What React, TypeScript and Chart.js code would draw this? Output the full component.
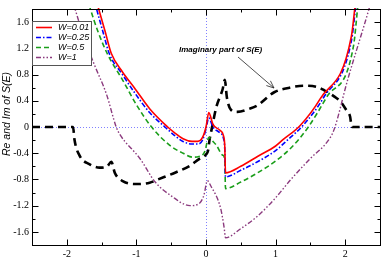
import React, { useEffect, useRef } from "react";
import { Chart, registerables } from "chart.js";

Chart.register(...registerables);

// ---------- data ----------
const xTickValues = [-2, -1, 0, 1, 2];
const yTickValues = [-1.6, -1.2, -0.8, -0.4, 0, 0.4, 0.8, 1.2, 1.6];
const xMin = -2.5;
const xMax = 2.5;
const yMin = -1.8;
const yMax = 1.8;

const seriesLabels = ["W=0.01", "W=0.25", "W=0.5", "W=1"];
const yAxisTitle = "Re and Im of S(E)";
const annotationText = "Imaginary part of S(E)";

// Re S(E), W=0.01
const reW001X = [-1.62, -1.55, -1.45, -1.36, -1.2, -1.03, -0.81, -0.55, -0.45, -0.33, -0.2, -0.12, -0.05, 0.0, 0.04, 0.1, 0.2, 0.25, 0.27, 0.28, 0.5, 0.74, 1.0, 1.11, 1.35, 1.64, 2.09, 2.14, 2.17];
const reW001Y = [2.1, 1.83, 1.46, 1.12, 0.84, 0.6, 0.28, 0.0, -0.09, -0.18, -0.22, -0.22, -0.16, 0.0, 0.22, 0.04, -0.05, -0.13, -0.3, -0.7, -0.6, -0.45, -0.29, -0.19, 0.02, 0.43, 1.39, 1.83, 2.1];

// Re S(E), W=0.25
const reW025X = [-1.65, -1.58, -1.48, -1.39, -1.2, -1.03, -0.81, -0.59, -0.45, -0.33, -0.2, -0.12, -0.05, 0.0, 0.04, 0.1, 0.2, 0.25, 0.27, 0.28, 0.5, 0.74, 1.0, 1.18, 1.4, 1.69, 2.09, 2.15, 2.18];
const reW025Y = [2.1, 1.83, 1.45, 1.12, 0.8, 0.53, 0.22, 0.0, -0.13, -0.22, -0.26, -0.26, -0.2, -0.03, 0.14, 0.0, -0.09, -0.17, -0.35, -0.76, -0.66, -0.53, -0.36, -0.19, 0.03, 0.45, 1.32, 1.83, 2.1];

// Re S(E), W=0.5
const reW05X = [-1.74, -1.67, -1.55, -1.41, -1.2, -1.0, -0.79, -0.52, -0.33, -0.19, -0.1, -0.02, 0.04, 0.1, 0.15, 0.24, 0.27, 0.28, 0.5, 0.74, 1.0, 1.22, 1.47, 1.73, 2.12, 2.18, 2.21];
const reW05Y = [2.1, 1.83, 1.45, 1.1, 0.72, 0.34, 0.01, -0.28, -0.4, -0.46, -0.45, -0.38, -0.16, -0.22, -0.28, -0.43, -0.5, -0.94, -0.84, -0.7, -0.52, -0.32, 0.0, 0.45, 1.24, 1.83, 2.1];

// Re S(E), W=1
const reW1X = [-1.97, -1.89, -1.75, -1.6, -1.43, -1.29, -1.24, -0.95, -0.73, -0.5, -0.23, -0.1, -0.03, 0.02, 0.07, 0.21, 0.26, 0.28, 0.5, 0.74, 1.0, 1.22, 1.5, 1.76, 1.84, 2.03, 2.35, 2.42];
const reW1Y = [2.1, 1.83, 1.35, 0.94, 0.5, 0.0, -0.11, -0.48, -0.84, -1.05, -1.2, -1.17, -1.04, -0.82, -0.9, -1.24, -1.53, -1.69, -1.55, -1.36, -1.08, -0.8, -0.48, -0.2, -0.04, 0.7, 1.83, 2.1];

// Im S(E)
const imX = [-2.5, -1.91, -1.89, -1.82, -1.67, -1.53, -1.42, -1.36, -1.31, -1.19, -1.0, -0.81, -0.69, -0.43, -0.23, -0.1, 0.0, 0.03, 0.05, 0.08, 0.15, 0.24, 0.27, 0.3, 0.36, 0.45, 0.63, 0.74, 0.98, 1.2, 1.41, 1.6, 1.7, 1.85, 1.94, 2.02, 2.07, 2.09, 2.1, 2.5];
const imY = [0, 0, -0.19, -0.43, -0.57, -0.62, -0.6, -0.53, -0.7, -0.83, -0.87, -0.85, -0.8, -0.69, -0.59, -0.49, -0.42, -0.36, -0.2, -0.04, 0.31, 0.58, 0.72, 0.45, 0.26, 0.23, 0.28, 0.33, 0.53, 0.6, 0.63, 0.61, 0.56, 0.46, 0.38, 0.25, 0.16, 0.02, 0, 0];

const toPoints = (xs: number[], ys: number[]) => xs.map((x, i) => ({ x, y: ys[i] }));
const fmt = (v: number) => String(Math.round(v * 10) / 10);

const SANS = '"Liberation Sans", Arial, sans-serif';
const SERIF = '"Liberation Serif", "Times New Roman", serif';

const decorPlugin = {
  id: "decor",
  beforeDatasetsDraw(chart: any) {
    const { ctx, chartArea: a, scales } = chart;
    const x0 = Math.round(scales.x.getPixelForValue(0)) + 0.5;
    const y0 = Math.round(scales.y.getPixelForValue(0)) + 0.5;
    ctx.save();
    ctx.strokeStyle = "#8080ff";
    ctx.lineWidth = 1;
    ctx.setLineDash([1, 2]);
    ctx.beginPath();
    ctx.moveTo(x0, a.top);
    ctx.lineTo(x0, a.bottom);
    ctx.moveTo(a.left, y0);
    ctx.lineTo(a.right, y0);
    ctx.stroke();
    ctx.restore();
  },
  afterDraw(chart: any) {
    const { ctx, chartArea: a, scales } = chart;
    const xs = scales.x;
    const ys = scales.y;
    ctx.save();
    // frame
    ctx.strokeStyle = "#000";
    ctx.lineWidth = 1;
    ctx.setLineDash([]);
    const L = a.left + 0.5, R = a.right + 0.5, T = a.top + 0.5, B = a.bottom + 0.5;
    ctx.strokeRect(L, T, R - L, B - T);

    // ticks (major + minor), inward on all sides
    const major = 6, minor = 3;
    const xMaj = xs.ticks.map((t: any) => t.value);
    const yMaj = ys.ticks.map((t: any) => t.value);
    const mids = (vals: number[]) => {
      const out: number[] = [];
      const step = vals[1] - vals[0];
      out.push(vals[0] - step / 2);
      for (let i = 0; i < vals.length - 1; i++) out.push((vals[i] + vals[i + 1]) / 2);
      out.push(vals[vals.length - 1] + step / 2);
      return out;
    };
    ctx.beginPath();
    const xt = (v: number, len: number) => {
      const p = Math.round(xs.getPixelForValue(v)) + 0.5;
      if (p < a.left || p > a.right + 1) return;
      ctx.moveTo(p, B); ctx.lineTo(p, B - len);
      ctx.moveTo(p, T); ctx.lineTo(p, T + len);
    };
    const yt = (v: number, len: number) => {
      const p = Math.round(ys.getPixelForValue(v)) + 0.5;
      if (p < a.top || p > a.bottom + 1) return;
      ctx.moveTo(L, p); ctx.lineTo(L + len, p);
      ctx.moveTo(R, p); ctx.lineTo(R - len, p);
    };
    xMaj.forEach((v: number) => xt(v, major));
    mids(xMaj).forEach((v) => xt(v, minor));
    yMaj.forEach((v: number) => yt(v, major));
    mids(yMaj).forEach((v) => yt(v, minor));
    ctx.stroke();

    // legend box
    const bx = a.left + 0.5, by = 21.5, bw = 59, bh = 44;
    ctx.fillStyle = "#fff";
    ctx.fillRect(bx, by, bw, bh);
    ctx.strokeStyle = "#555";
    ctx.strokeRect(bx, by, bw, bh);
    const rows = [27, 37, 47, 57];
    ctx.font = `italic 9px ${SANS}`;
    ctx.textBaseline = "middle";
    ctx.textAlign = "left";
    chart.data.datasets.slice(0, seriesLabels.length).forEach((ds: any, i: number) => {
      const yy = rows[i] + 0.5;
      ctx.strokeStyle = ds.borderColor;
      ctx.lineWidth = ds.borderWidth;
      ctx.setLineDash(ds.borderDash || []);
      ctx.beginPath();
      ctx.moveTo(a.left + 4, yy);
      ctx.lineTo(a.left + 20, yy);
      ctx.stroke();
      ctx.setLineDash([]);
      ctx.fillStyle = "#000";
      ctx.fillText(ds.label, a.left + 26, yy);
    });

    // annotation
    ctx.font = `italic bold 8px ${SANS}`;
    ctx.fillStyle = "#000";
    ctx.textAlign = "left";
    ctx.textBaseline = "middle";
    ctx.fillText(annotationText, 179, 50);

    // arrow
    const ax1 = 238, ay1 = 57, ax2 = 274, ay2 = 88;
    ctx.strokeStyle = "#222";
    ctx.lineWidth = 0.8;
    ctx.beginPath();
    ctx.moveTo(ax1, ay1);
    ctx.lineTo(ax2, ay2);
    const ang = Math.atan2(ay2 - ay1, ax2 - ax1);
    const hl = 8, ha = 0.4;
    ctx.moveTo(ax2, ay2);
    ctx.lineTo(ax2 - hl * Math.cos(ang - ha), ay2 - hl * Math.sin(ang - ha));
    ctx.moveTo(ax2, ay2);
    ctx.lineTo(ax2 - hl * Math.cos(ang + ha), ay2 - hl * Math.sin(ang + ha));
    ctx.stroke();

    // y axis title
    ctx.translate(7, 114);
    ctx.rotate(-Math.PI / 2);
    ctx.font = `italic 10.5px ${SANS}`;
    ctx.textAlign = "center";
    ctx.textBaseline = "middle";
    ctx.fillStyle = "#000";
    ctx.fillText(yAxisTitle, 0, 0);
    ctx.restore();
  },
};

export default function App() {
  const ref = useRef<HTMLCanvasElement | null>(null);

  useEffect(() => {
    if (!ref.current) return;
    const common = { pointRadius: 0, fill: false, cubicInterpolationMode: "monotone" as const, clip: 1 };
    const chart = new Chart(ref.current, {
      type: "line",
      data: {
        datasets: [
          { ...common, label: seriesLabels[0], data: toPoints(reW001X, reW001Y), borderColor: "#ff0000", borderWidth: 1.6, borderDash: [] },
          { ...common, label: seriesLabels[1], data: toPoints(reW025X, reW025Y), borderColor: "#0000ff", borderWidth: 1.6, borderDash: [5, 2, 1.5, 2] },
          { ...common, label: seriesLabels[2], data: toPoints(reW05X, reW05Y), borderColor: "#1a9e1a", borderWidth: 1.6, borderDash: [5, 3] },
          { ...common, label: seriesLabels[3], data: toPoints(reW1X, reW1Y), borderColor: "#8b3a7e", borderWidth: 1.4, borderDash: [5, 2, 1.5, 2, 1.5, 2] },
          { ...common, label: "Im", data: toPoints(imX, imY), borderColor: "#000000", borderWidth: 2.6, borderDash: [8, 5] },
        ],
      },
      options: {
        animation: false,
        responsive: false,
        maintainAspectRatio: false,
        parsing: false,
        layout: { padding: { top: 1, right: 2, left: 0, bottom: 0 } },
        plugins: { legend: { display: false }, tooltip: { enabled: false }, title: { display: false } },
        elements: { point: { radius: 0 } },
        scales: {
          x: {
            type: "linear",
            min: xMin,
            max: xMax,
            grid: { display: false, drawTicks: false },
            border: { display: false },
            afterBuildTicks: (s: any) => { s.ticks = xTickValues.map((v) => ({ value: v })); },
            afterFit: (s: any) => { s.height = 13; },
            ticks: {
              padding: 3,
              color: "#000",
              autoSkip: false,
              maxRotation: 0,
              font: { family: SERIF, size: 10 },
              callback: (v: any) => fmt(Number(v)),
            },
          },
          y: {
            type: "linear",
            min: yMin,
            max: yMax,
            grid: { display: false, drawTicks: false },
            border: { display: false },
            afterBuildTicks: (s: any) => { s.ticks = yTickValues.map((v) => ({ value: v })); },
            afterFit: (s: any) => { s.width = 32; },
            ticks: {
              padding: 3,
              color: "#000",
              autoSkip: false,
              font: { family: SERIF, size: 10 },
              callback: (v: any) => fmt(Number(v)),
            },
          },
        },
      },
      plugins: [decorPlugin],
    } as any);
    return () => chart.destroy();
  }, []);

  return (
    <div style={{ position: "fixed", left: 0, top: 0, width: 382, height: 258, background: "#fff" }}>
      <canvas ref={ref} width={382} height={258} style={{ display: "block", width: 382, height: 258 }} />
    </div>
  );
}
